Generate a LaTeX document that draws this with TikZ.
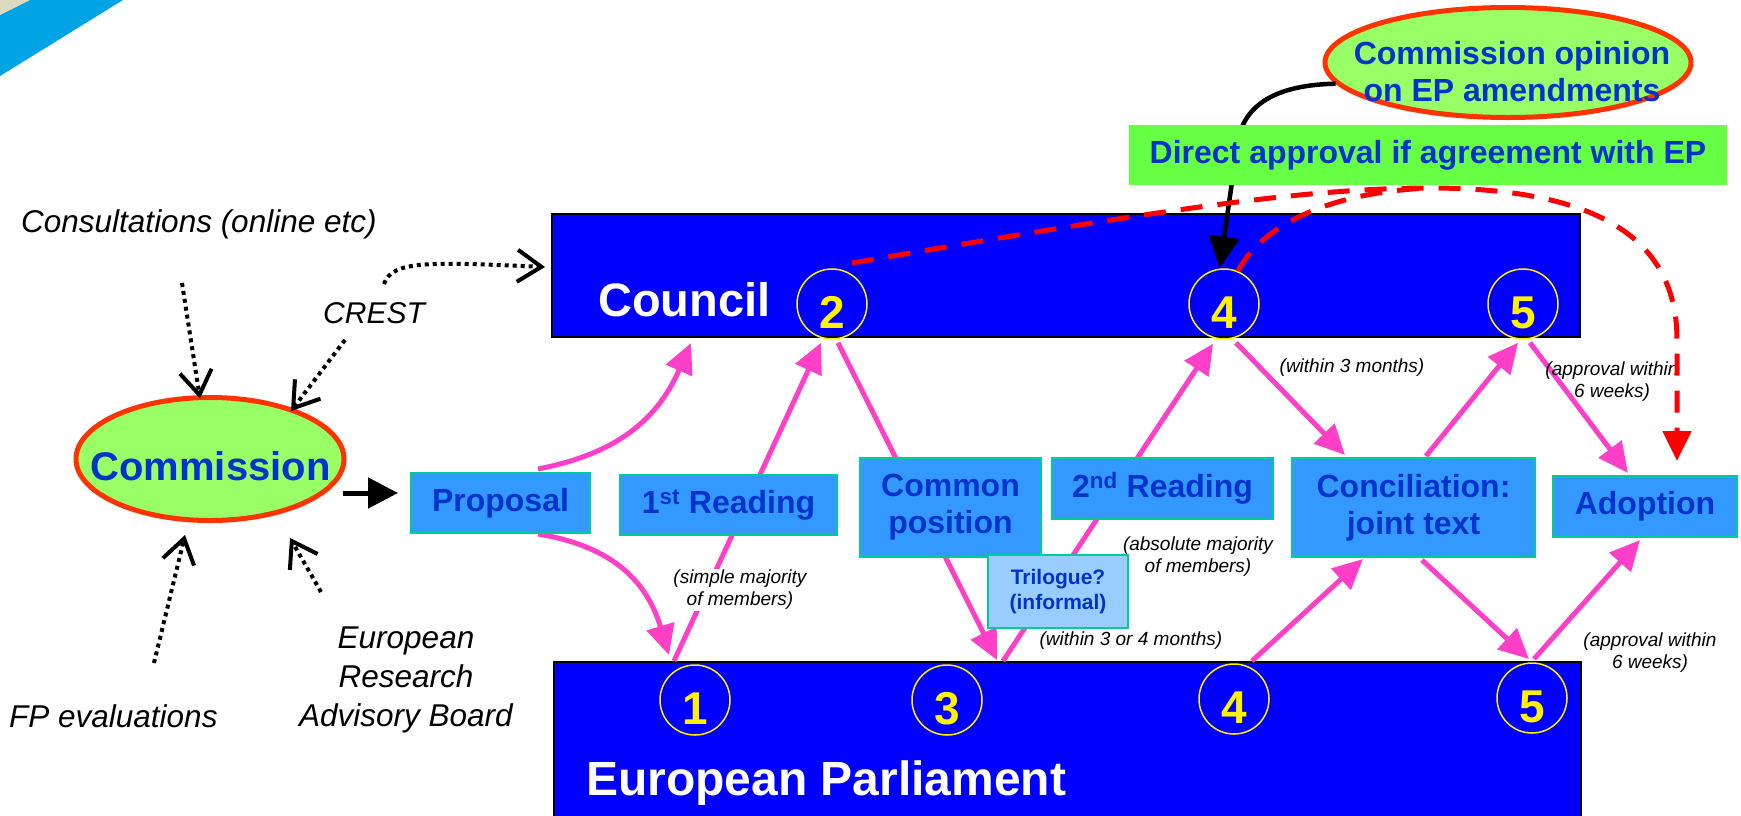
\documentclass[tikz,border=0pt]{standalone}
\usepackage{fontspec}
\setmainfont{Liberation Sans}
\usetikzlibrary{arrows.meta,shapes.geometric,calc}

\definecolor{boxblue}{HTML}{3399FF}
\definecolor{boxedge}{HTML}{00CC99}
\definecolor{txtblue}{HTML}{0033CC}
\definecolor{trifill}{HTML}{99CCFF}
\definecolor{ellfill}{HTML}{99FF66}
\definecolor{elledge}{HTML}{FF3300}
\definecolor{grnbox}{HTML}{66FF44}
\definecolor{flowpink}{HTML}{FF3FC8}
\definecolor{stripe}{HTML}{00A3E4}
\definecolor{beige}{HTML}{DCDAC3}
\definecolor{pureblue}{HTML}{0000FF}

\newcommand{\fsz}[2]{\fontsize{#1}{#2}\selectfont}
\newcommand{\dg}[1]{\raisebox{-8pt}[33pt][0pt]{#1}}

\begin{document}
\begin{tikzpicture}[x=1pt,y=-1pt,
  house/.style={draw=black, line width=2pt, fill=pureblue, inner sep=0pt},
  numc/.style={circle, draw=yellow, line width=1.5pt, minimum size=70pt, inner sep=0pt, text=yellow, font=\bfseries\fsz{46}{46}},
  stage/.style={draw=boxedge, line width=2pt, fill=boxblue, inner sep=0pt, text=txtblue, font=\bfseries\fsz{32}{37}, align=center},
  flow/.style={draw=flowpink, line width=5pt, -{Triangle[length=30pt,width=28pt]}},
  note/.style={font=\itshape\fsz{19}{22}, align=center, inner sep=1pt},
  side/.style={font=\itshape\fsz{31.5}{39}, align=center, inner sep=0pt},
  feed/.style={draw=black, line width=4pt, dash pattern=on 4pt off 4pt, -{Straight Barb[length=24pt,width=32pt]}},
  fbk/.style={draw=red, line width=5pt, dash pattern=on 22pt off 15pt},
  oval/.style={ellipse, draw=elledge, line width=5pt, fill=ellfill, inner sep=0pt}
]
\useasboundingbox (0,0) rectangle (1741,815);
\fill[white] (0,0) rectangle (1741,815);

% top-left decoration
\fill[stripe] (0,0) -- (123,0) -- (0,76) -- cycle;
\fill[beige] (0,0) -- (30,0) -- (0,15) -- cycle;

% institutions
\node[house, minimum width=1028pt, minimum height=123pt] (council) at (1066,275.5) {};
\node[house, minimum width=1027pt, minimum height=170pt] (ep) at (1067.5,747) {};
\node[anchor=base west, inner sep=0pt, text=white, font=\bfseries\fsz{47}{47}] (counciltxt) at (598,316) {Council};
\node[anchor=base west, inner sep=0pt, text=white, font=\bfseries\fsz{48}{48}] (eptxt) at (586,795) {European Parliament};

\node[numc] (c2) at (832,304) {\dg{2}};
\node[numc] (c4) at (1224,304) {\dg{4}};
\node[numc] (c5) at (1523,304) {\dg{5}};
\node[numc] (e1) at (695,700) {\dg{1}};
\node[numc] (e3) at (947,700) {\dg{3}};
\node[numc] (e4) at (1234,699) {\dg{4}};
\node[numc] (e5) at (1532,698) {\dg{5}};

% stage boxes: invisible frames used as connector ends
\node[stage, minimum width=179pt, minimum height=60pt, draw=none, fill=none, text opacity=0] (prop) at (500.5,503) {Proposal};
\node[stage, minimum width=181pt, minimum height=99pt, draw=none, fill=none, text opacity=0] (cp) at (950.5,507.5) {Common\\position};
\node[stage, minimum width=243pt, minimum height=99pt, draw=none, fill=none, text opacity=0] (conc) at (1413.5,507.5) {Conciliation:\\joint text};
\node[stage, minimum width=184pt, minimum height=61pt, draw=none, fill=none, text opacity=0] (adopt) at (1645,506.5) {Adoption};

% pink flows
\draw[flow] ($(prop.north east)+(-53,-3)$) .. controls (610,455) and (655,425) .. ($(council.south west)+(140,5)$);
\draw[flow] ($(prop.south east)+(-53,0)$) .. controls (605,545) and (645,575) .. ($(ep.north west)+(116,-6)$);
\draw[flow] ($(ep.north west)+(121,0)$) -- ($(c2.south)+(-11,3)$);
\draw[flow] ($(c2.south)+(6,3)$) -- ($(ep.north west)+(444,-1)$);
\draw[flow] ($(ep.north west)+(450,0)$) -- ($(c4.south)+(-11,4)$);
\draw[flow] ($(c4.south)+(12,3)$) -- ($(conc.north west)+(54,-2)$);
\draw[flow] ($(ep.north west)+(699,0)$) -- ($(conc.south west)+(72,1)$);
\draw[flow] ($(conc.north west)+(135,-1)$) -- ($(c5.south)+(-5,3)$);
\draw[flow] ($(conc.south west)+(131,2)$) -- ($(ep.north west)+(976,-2)$);
\draw[flow] ($(c5.south)+(7,3)$) -- ($(adopt.north west)+(76,-2)$);
\draw[flow] ($(ep.north west)+(981,-2)$) -- ($(adopt.south west)+(88,2)$);

% stage boxes
\node[stage, minimum width=179pt, minimum height=60pt] (propbox) at (prop) {Proposal};
\node[stage, minimum width=217pt, minimum height=60pt] (r1) at (728.5,505) {1\textsuperscript{st} Reading};
\node[stage, minimum width=181pt, minimum height=99pt] (cpbox) at (cp) {Common\\position};
\node[stage, minimum width=221pt, minimum height=61pt] (r2) at (1162.5,488.5) {2\textsuperscript{nd} Reading};
\node[stage, minimum width=243pt, minimum height=99pt] (concbox) at (conc) {Conciliation:\\joint text};
\node[stage, minimum width=184pt, minimum height=61pt] (adoptbox) at (adopt) {Adoption};
\node[stage, fill=trifill, minimum width=140pt, minimum height=73pt, font=\bfseries\fsz{21}{25}] (tri) at (1058,591.5) {Trilogue?\\(informal)};

% notes
\node[note, fill=white] (lab1) at (740,590) {(simple majority\\of members)};
\node[note] (lab2) at (1198,557) {(absolute majority\\of members)};
\node[note] (lab3) at (1131,641) {(within 3 or 4 months)};
\node[note] (lab4) at (1352,368) {(within 3 months)};
\node[note] (lab5) at (1612,382) {(approval within\\6 weeks)};
\node[note] (lab6) at (1650,653) {(approval within\\6 weeks)};

% Commission and inputs
\node[oval, minimum width=268pt, minimum height=123pt] (comm) at (210,459) {};
\node[inner sep=0pt, text=txtblue, font=\bfseries\fsz{40}{40}] (commtxt) at (210.5,466) {Commission};
\draw[line width=5pt, -{Triangle[length=30pt,width=30pt]}] ($(comm.east)+(-4,34)$) -- ($(prop.west)+(-12,-10)$);

\node[side, anchor=base west] (consult) at (21,232) {Consultations (online etc)};
\node[side, anchor=base west, font=\itshape\fsz{30}{39}] (crest) at (323,323) {CREST};
\node[side, anchor=base west] (fpe) at (9,727) {FP evaluations};
\node[side] (erab) at (406,680) {European\\Research\\Advisory Board};

\coordinate (consultEnd) at (182,283);
\coordinate (crestA) at (345,340);
\coordinate (crestB) at (384,284);
\coordinate (fpA) at (154,663);
\coordinate (erabA) at (321,592);
\draw[feed] (consultEnd) -- ($(comm.north)+(-10,3.5)$);
\draw[feed] (crestA) -- ($(comm.center)+(81,-48)$);
\draw[feed] (crestB) .. controls (392,260) and (430,262) .. ($(council.north west)+(-6,54)$);
\draw[feed] (fpA) -- ($(comm.center)+(-25,76)$);
\draw[feed] (erabA) -- ($(comm.center)+(80,79)$);

% Commission opinion
\node[oval, minimum width=366pt, minimum height=110pt] (opin) at (1508,62.5) {};
\draw[line width=4.5pt, -{Triangle[length=32pt,width=30pt]}] (opin.187) .. controls (1275,85) and (1245,105) .. (1238,140) -- (c4.97);
\node[fill=grnbox, minimum width=598pt, minimum height=60pt, inner sep=0pt, text=txtblue, font=\bfseries\fsz{32}{32}] (direct) at (1428,155) {Direct approval if agreement with EP};
\node[inner sep=0pt, align=center, text=txtblue, font=\bfseries\fsz{32}{37}] (opintxt) at (1512,72) {Commission opinion\\on EP amendments};

% direct approval path
\draw[fbk] ($(c2.center)+(20,-41)$) .. controls (1150,212) and (1300,188) .. (1430,188) .. controls (1600,188) and (1677,240) .. (1677,340) -- ($(adopt.north)+(32,-40)$);
\draw[fbk] ($(c4.center)+(14,-33)$) .. controls (1262,225) and (1330,192) .. (1430,188);
\draw[draw=red, line width=5pt, -{Triangle[length=30pt,width=28pt]}] ($(adopt.north)+(32,-42)$) -- ($(adopt.north)+(32,-14)$);
\end{tikzpicture}
\end{document}
